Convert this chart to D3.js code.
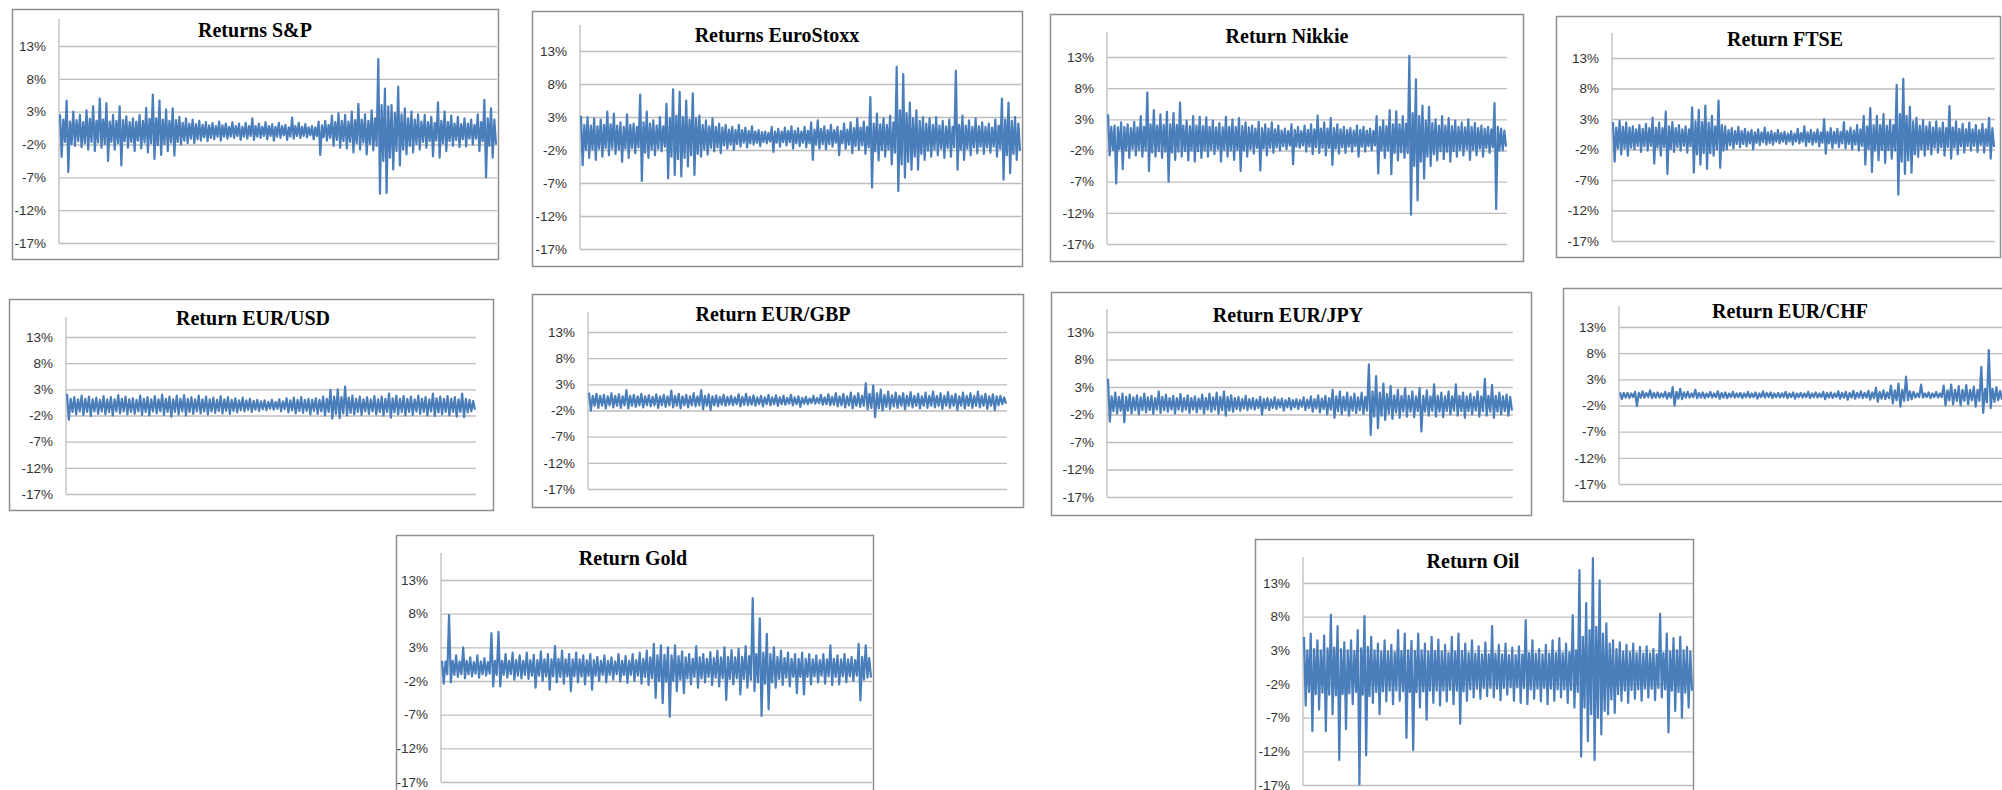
<!DOCTYPE html>
<html>
<head>
<meta charset="utf-8">
<script src="https://cdn.jsdelivr.net/npm/d3@7"></script>
<style>
  body { margin: 0; background: #fff; }
  svg { display: block; }
</style>
</head>
<body>
<svg id="chart" width="2002" height="790"></svg>
<script>
// y ticks shared by all ten panels (percent)
var tickValues = [-17, -12, -7, -2, 3, 8, 13];

var titles = ["Returns S&P", "Returns EuroStoxx", "Return Nikkie", "Return FTSE",
  "Return EUR/USD", "Return EUR/GBP", "Return EUR/JPY", "Return EUR/CHF",
  "Return Gold", "Return Oil"];

// daily returns in % left to right:
// each group of four is a high, a low and two swings inside the dense core
var spReturns = [
  2.6,-3.9,1.8,-1.6, 4.7,-6.2,1.5,-1.9, 3.0,-2.2,1.7,-1.5, 2.5,-2.4,1.4,-1.8, 3.2,-2.8,1.9,-1.6,
  3.8,-3.0,1.6,-1.7, 5.0,-2.5,1.8,-1.9, 4.3,-4.5,1.5,-1.6, 2.5,-2.8,1.6,-1.8, 3.8,-5.2,1.7,-1.5,
  2.3,-2.5,1.4,-1.6, 2.0,-3.0,1.5,-1.4, 2.5,-2.6,1.6,-1.7, 3.6,-3.2,1.9,-1.8, 5.6,-4.2,2.0,-2.1,
  4.7,-3.6,1.8,-1.9, 3.3,-3.0,1.6,-1.7, 3.5,-3.7,1.7,-1.6, 2.2,-2.0,1.3,-1.4, 2.0,-1.8,1.2,-1.1,
  1.8,-1.8,1.1,-1.2, 1.6,-1.4,1.0,-0.9, 1.4,-1.5,0.9,-1.0, 1.3,-1.2,0.8,-0.8, 1.5,-1.4,0.9,-0.8,
  1.2,-1.1,0.7,-0.8, 1.4,-1.0,0.8,-0.7, 1.2,-1.3,0.7,-0.8, 1.3,-1.1,0.8,-0.7, 2.0,-1.3,0.8,-0.8,
  1.2,-1.0,0.7,-0.7, 1.4,-1.2,0.8,-0.7, 1.1,-1.4,0.7,-0.8, 1.3,-1.0,0.8,-0.6, 1.0,-1.3,0.6,-0.8,
  2.1,-1.1,0.8,-0.7, 1.3,-1.0,0.7,-0.7, 1.1,-0.9,0.6,-0.6, 0.8,-1.2,0.6,-0.7, 1.5,-3.6,0.9,-0.9,
  1.6,-1.4,1.0,-1.0, 2.4,-2.2,1.4,-1.3, 2.8,-2.5,1.6,-1.5, 2.5,-2.6,1.5,-1.6, 3.0,-3.2,1.7,-1.8,
  4.2,-2.8,1.8,-1.7, 2.6,-3.5,1.6,-1.9, 3.2,-2.9,2.0,-2.2, 11.0,-9.5,4.0,-4.5, 6.5,-9.4,3.8,-4.0,
  4.0,-5.8,2.8,-3.0, 6.8,-5.2,2.6,-2.8, 3.5,-3.5,2.0,-2.2, 3.0,-3.2,1.8,-1.9, 2.6,-2.8,1.5,-1.6,
  2.5,-2.5,1.4,-1.5, 2.2,-3.8,1.3,-1.4, 4.4,-4.0,1.6,-1.8, 3.0,-3.0,1.4,-1.5, 2.4,-2.2,1.2,-1.3,
  2.2,-2.4,1.1,-1.2, 2.0,-2.3,1.2,-1.1, 1.8,-2.0,1.0,-1.1, 2.6,-3.0,1.4,-1.5, 4.8,-7.0,2.0,-2.2,
  3.5,-4.0,1.8,-2.0];

var euroStoxxReturns = [
  3.2,-4.3,1.8,-2.0, 3.0,-3.2,1.7,-1.9, 2.8,-3.5,1.6,-1.8, 2.6,-3.0,1.8,-1.7, 3.8,-2.8,1.9,-1.8,
  3.5,-2.6,1.7,-1.9, 2.2,-3.8,1.5,-1.8, 3.4,-3.2,1.8,-1.7, 2.0,-2.5,1.5,-1.6, 6.4,-6.7,2.2,-2.4,
  3.8,-3.2,2.0,-1.9, 2.5,-2.8,1.7,-1.8, 3.0,-2.2,1.6,-1.5, 5.0,-6.3,2.8,-3.0, 7.2,-5.8,3.2,-3.4,
  6.8,-6.0,3.0,-3.2, 5.5,-4.5,2.6,-2.8, 6.6,-5.8,2.8,-2.6, 3.2,-3.0,1.8,-1.9, 2.5,-2.7,1.6,-1.7,
  2.8,-2.2,1.5,-1.6, 2.0,-2.5,1.4,-1.3, 1.8,-1.8,1.1,-1.2, 1.5,-2.0,1.0,-1.1, 1.8,-1.5,1.0,-0.9,
  1.4,-1.6,0.9,-1.0, 1.6,-1.2,0.8,-0.9, 1.0,-1.4,0.7,-0.8, 0.8,-1.0,0.6,-0.7, 1.5,-2.3,0.8,-0.9,
  1.2,-1.5,0.8,-0.8, 1.4,-1.3,0.9,-0.8, 1.6,-1.8,0.9,-1.0, 1.3,-1.4,0.8,-0.9, 1.5,-1.6,0.9,-1.0,
  2.2,-3.5,1.1,-1.2, 2.5,-1.8,1.2,-1.1, 1.6,-1.9,1.0,-1.1, 1.8,-1.5,1.0,-0.9, 1.5,-2.8,0.9,-1.0,
  2.0,-1.8,1.1,-1.2, 2.2,-2.5,1.3,-1.4, 2.8,-2.0,1.4,-1.3, 2.3,-2.6,1.5,-1.6, 6.0,-7.7,2.0,-2.2,
  3.5,-3.6,1.9,-2.0, 2.8,-3.0,1.8,-1.9, 3.2,-4.2,2.2,-2.4, 10.6,-8.2,4.0,-4.2, 9.5,-6.2,3.6,-3.8,
  5.2,-5.0,2.8,-3.0, 4.0,-5.0,2.4,-2.6, 3.0,-3.5,2.0,-2.1, 2.8,-3.0,1.8,-1.9, 3.0,-2.8,1.7,-1.8,
  2.4,-3.2,1.6,-1.7, 2.6,-3.0,1.5,-1.6, 10.0,-5.0,1.8,-1.9, 3.2,-3.5,1.7,-1.8, 2.5,-2.8,1.5,-1.6,
  2.8,-2.5,1.6,-1.5, 2.2,-2.6,1.5,-1.6, 2.0,-2.4,1.4,-1.5, 2.6,-3.0,1.7,-1.8, 5.8,-6.5,2.6,-2.8,
  5.2,-5.5,2.4,-2.6, 3.0,-3.5,2.0,-2.1];

var nikkieReturns = [
  3.8,-2.8,1.8,-1.9, 2.0,-7.3,1.7,-1.8, 2.5,-5.0,1.8,-2.0, 2.2,-3.2,1.6,-1.8, 2.6,-2.8,1.7,-1.9,
  3.5,-3.0,1.8,-2.0, 7.3,-5.3,2.2,-2.3, 4.5,-3.0,2.0,-2.1, 3.8,-3.2,2.1,-2.2, 4.2,-7.0,2.2,-2.3,
  4.0,-3.5,2.1,-2.2, 5.7,-3.0,2.0,-2.1, 2.8,-3.6,1.9,-2.0, 3.5,-3.8,2.0,-2.1, 3.4,-3.2,1.9,-2.0,
  3.3,-3.0,1.8,-1.9, 2.8,-2.6,1.7,-1.8, 2.4,-3.8,1.7,-1.9, 3.4,-3.0,1.8,-2.0, 3.0,-3.5,1.8,-1.9,
  3.2,-5.3,1.9,-2.0, 2.5,-3.0,1.7,-1.8, 2.0,-2.5,1.5,-1.6, 2.6,-5.2,1.6,-1.7, 2.2,-2.8,1.5,-1.6,
  2.5,-2.4,1.4,-1.5, 2.0,-2.0,1.2,-1.3, 1.5,-1.8,1.1,-1.2, 2.2,-4.2,1.3,-1.4, 1.8,-1.6,1.1,-1.2,
  2.0,-2.2,1.3,-1.4, 2.2,-2.6,1.4,-1.5, 3.6,-2.4,1.5,-1.6, 2.5,-2.8,1.5,-1.6, 3.2,-4.3,1.6,-1.7,
  2.2,-2.5,1.4,-1.5, 1.8,-2.4,1.3,-1.4, 1.6,-2.2,1.2,-1.3, 2.0,-3.0,1.3,-1.4, 1.8,-2.2,1.2,-1.3,
  1.5,-2.0,1.1,-1.2, 3.5,-5.7,1.8,-2.0, 2.8,-3.2,1.9,-2.0, 4.5,-5.8,2.2,-2.4, 4.3,-3.6,2.2,-2.3,
  3.5,-3.2,2.3,-2.4, 13.2,-12.3,4.0,-4.5, 9.4,-10.0,3.5,-3.8, 5.2,-6.5,2.8,-3.0, 5.0,-4.5,2.4,-2.6,
  3.0,-3.6,2.0,-2.1, 3.5,-3.4,2.0,-2.2, 3.2,-3.8,1.9,-2.1, 2.8,-3.0,1.8,-1.9, 2.5,-2.8,1.7,-1.8,
  3.0,-3.5,1.8,-1.9, 2.4,-2.8,1.6,-1.7, 2.0,-3.0,1.5,-1.6, 1.8,-2.4,1.4,-1.5, 5.6,-11.4,1.8,-2.0,
  1.5,-2.0,1.2,-1.4];

var ftseReturns = [
  2.5,-4.0,1.6,-1.8, 2.7,-2.8,1.7,-1.8, 2.4,-3.0,1.6,-1.7, 1.8,-2.0,1.3,-1.4, 2.0,-2.4,1.4,-1.5,
  2.2,-2.2,1.5,-1.4, 3.2,-4.3,1.6,-1.7, 2.4,-3.0,1.5,-1.6, 4.2,-6.0,1.8,-1.9, 2.5,-2.4,1.5,-1.6,
  2.0,-2.2,1.3,-1.4, 1.8,-2.5,1.3,-1.5, 4.9,-5.8,2.6,-2.8, 4.5,-4.5,2.5,-2.6, 5.2,-5.2,2.4,-2.6,
  3.5,-3.0,1.8,-2.0, 6.0,-5.0,2.0,-2.2, 1.8,-2.0,1.2,-1.3, 1.5,-1.8,1.0,-1.1, 1.7,-1.6,1.0,-1.1,
  1.4,-1.5,0.9,-1.0, 1.2,-2.0,0.8,-0.9, 1.3,-1.3,0.8,-0.8, 1.6,-1.2,0.8,-0.9, 1.0,-1.2,0.7,-0.7,
  1.2,-1.0,0.7,-0.7, 0.9,-1.1,0.6,-0.7, 1.0,-1.2,0.6,-0.7, 1.4,-1.0,0.7,-0.7, 1.8,-1.4,0.8,-0.8,
  1.2,-1.2,0.8,-0.8, 1.3,-1.5,0.8,-0.9, 3.0,-2.7,0.9,-1.0, 1.5,-1.8,0.9,-1.0, 1.4,-1.6,0.9,-1.0,
  2.5,-1.8,1.0,-1.1, 1.6,-2.0,1.1,-1.2, 2.0,-2.2,1.3,-1.4, 3.5,-4.5,1.8,-1.9, 4.8,-5.7,2.0,-2.2,
  3.5,-3.8,2.0,-2.1, 3.8,-4.2,1.9,-2.1, 2.8,-3.5,2.0,-2.2, 8.6,-9.4,3.8,-4.0, 9.6,-6.0,3.5,-3.8,
  5.0,-5.8,2.6,-2.8, 3.2,-3.2,1.9,-2.0, 2.8,-3.0,1.8,-1.9, 2.5,-2.8,1.6,-1.7, 2.6,-2.5,1.5,-1.6,
  2.4,-3.0,1.5,-1.6, 5.1,-3.5,1.6,-1.7, 2.6,-2.8,1.4,-1.5, 2.2,-2.5,1.3,-1.4, 2.4,-2.2,1.3,-1.4,
  2.0,-2.4,1.2,-1.3, 2.2,-2.5,1.3,-1.4, 3.2,-3.5,1.5,-1.6];

var eurUsdReturns = [
  2.1,-2.8,1.2,-1.3, 1.5,-1.8,1.1,-1.2, 1.8,-1.9,1.2,-1.3, 1.6,-2.1,1.1,-1.2, 1.4,-1.7,1.0,-1.2,
  1.7,-1.8,1.1,-1.3, 1.5,-2.0,1.1,-1.2, 1.9,-1.6,1.2,-1.2, 1.6,-1.8,1.1,-1.3, 1.3,-1.7,1.0,-1.2,
  1.8,-1.9,1.2,-1.3, 1.5,-2.0,1.1,-1.2, 1.7,-1.6,1.1,-1.2, 2.0,-1.9,1.2,-1.3, 1.6,-2.2,1.1,-1.3,
  1.8,-1.8,1.2,-1.2, 1.9,-2.0,1.2,-1.3, 1.5,-1.7,1.1,-1.2, 1.8,-1.6,1.1,-1.2, 1.6,-1.8,1.1,-1.2,
  1.4,-1.5,1.0,-1.1, 1.7,-1.6,1.1,-1.1, 1.5,-1.7,1.0,-1.1, 1.3,-1.4,0.9,-1.0, 1.4,-1.2,0.9,-0.9,
  1.2,-1.3,0.8,-0.9, 1.0,-1.1,0.7,-0.8, 0.9,-1.0,0.6,-0.7, 1.0,-0.9,0.6,-0.7, 1.1,-1.2,0.7,-0.8,
  1.3,-1.4,0.9,-1.0, 1.4,-1.6,1.0,-1.1, 1.5,-1.5,1.0,-1.1, 1.2,-1.8,1.0,-1.1, 1.3,-1.7,1.0,-1.2,
  1.6,-2.0,1.2,-1.3, 2.9,-2.6,1.6,-1.7, 3.0,-2.5,1.5,-1.6, 3.5,-2.0,1.4,-1.5, 1.8,-1.8,1.2,-1.3,
  1.6,-1.9,1.1,-1.2, 1.5,-1.7,1.1,-1.2, 1.7,-1.8,1.1,-1.3, 1.6,-2.0,1.2,-1.3, 2.2,-2.4,1.3,-1.4,
  1.8,-1.8,1.2,-1.3, 1.7,-2.0,1.2,-1.3, 1.6,-1.9,1.1,-1.2, 1.8,-1.7,1.2,-1.3, 1.5,-2.0,1.1,-1.2,
  2.2,-2.1,1.3,-1.4, 1.6,-1.8,1.2,-1.3, 1.7,-2.0,1.2,-1.3, 1.5,-2.2,1.1,-1.3, 2.2,-2.3,1.2,-1.4,
  1.0,-1.2,0.8,-0.9];

var eurGbpReturns = [
  1.4,-2.0,0.8,-1.1, 1.2,-1.5,0.8,-1.1, 1.0,-1.6,0.7,-1.0, 1.3,-1.4,0.8,-1.1, 1.1,-1.5,0.7,-1.0,
  1.9,-1.6,0.8,-1.1, 1.0,-1.3,0.7,-1.0, 1.2,-1.4,0.7,-1.0, 0.9,-1.2,0.6,-1.0, 1.1,-1.5,0.7,-1.0,
  1.0,-1.3,0.7,-1.0, 1.8,-1.4,0.8,-1.1, 1.2,-1.6,0.7,-1.0, 1.0,-1.4,0.7,-1.0, 1.3,-1.2,0.7,-1.0,
  1.9,-1.8,0.8,-1.1, 1.1,-1.9,0.7,-1.0, 0.9,-1.2,0.6,-0.9, 1.0,-1.1,0.6,-0.9, 0.8,-1.0,0.5,-0.8,
  1.1,-1.2,0.6,-0.9, 1.2,-1.0,0.6,-0.9, 0.9,-1.1,0.5,-0.8, 0.8,-1.2,0.5,-0.8, 1.0,-1.0,0.5,-0.8,
  0.9,-1.1,0.5,-0.8, 0.8,-0.9,0.4,-0.7, 1.0,-1.0,0.5,-0.8, 0.7,-1.3,0.4,-0.7, 0.6,-0.8,0.3,-0.6,
  0.8,-0.7,0.4,-0.6, 1.0,-0.9,0.5,-0.8, 1.1,-1.0,0.6,-0.9, 1.3,-1.2,0.7,-1.0, 1.2,-1.4,0.7,-1.0,
  1.4,-1.6,0.8,-1.1, 1.3,-1.3,0.8,-1.1, 3.2,-1.8,1.2,-1.5, 2.8,-3.3,1.3,-1.6, 2.0,-2.0,1.0,-1.3,
  1.6,-1.7,0.9,-1.2, 1.4,-1.5,0.8,-1.1, 1.3,-1.8,0.8,-1.1, 1.5,-1.4,0.8,-1.1, 1.2,-1.6,0.7,-1.1,
  1.4,-1.5,0.8,-1.1, 1.6,-1.4,0.8,-1.1, 1.3,-1.7,0.8,-1.1, 1.5,-1.5,0.8,-1.1, 1.2,-1.9,0.7,-1.1,
  1.4,-1.6,0.8,-1.1, 1.3,-1.5,0.8,-1.1, 1.6,-1.4,0.8,-1.1, 1.2,-1.7,0.7,-1.1, 1.1,-1.9,0.7,-1.0,
  0.8,-0.8,0.5,-0.7];

var eurJpyReturns = [
  4.5,-3.3,1.3,-1.4, 2.0,-1.8,1.2,-1.3, 1.8,-3.4,1.2,-1.3, 1.6,-1.8,1.1,-1.2, 1.5,-2.0,1.1,-1.2,
  1.8,-1.6,1.1,-1.2, 1.4,-1.9,1.0,-1.1, 2.2,-1.7,1.2,-1.2, 1.6,-1.5,1.0,-1.1, 1.4,-1.8,1.0,-1.1,
  1.7,-1.5,1.0,-1.1, 1.5,-1.7,1.0,-1.1, 1.3,-1.6,0.9,-1.0, 1.6,-1.8,1.0,-1.1, 1.8,-1.5,1.1,-1.1,
  2.0,-1.9,1.2,-1.2, 2.2,-2.2,1.2,-1.3, 1.5,-1.5,1.0,-1.0, 1.2,-1.3,0.8,-0.9, 1.4,-1.2,0.8,-0.9,
  1.0,-1.1,0.7,-0.8, 1.2,-2.0,0.8,-0.9, 1.0,-1.2,0.7,-0.8, 1.1,-1.0,0.7,-0.7, 0.9,-1.3,0.6,-0.7,
  1.0,-1.1,0.6,-0.7, 0.8,-1.0,0.6,-0.6, 1.1,-1.2,0.7,-0.8, 1.3,-1.5,0.8,-0.9, 1.5,-1.6,0.9,-1.0,
  1.4,-2.0,1.0,-1.1, 2.5,-2.6,1.3,-1.4, 2.2,-2.0,1.2,-1.3, 2.0,-2.2,1.2,-1.3, 1.8,-1.7,1.1,-1.2,
  2.0,-1.9,1.2,-1.3, 7.1,-5.7,2.2,-2.4, 5.0,-4.5,2.0,-2.2, 3.6,-3.0,1.7,-1.8, 3.2,-2.8,1.5,-1.6,
  2.5,-2.6,1.4,-1.5, 2.8,-2.4,1.4,-1.5, 2.2,-2.5,1.3,-1.4, 2.8,-5.1,1.4,-1.5, 2.4,-2.2,1.3,-1.4,
  3.5,-2.4,1.4,-1.5, 2.0,-2.5,1.3,-1.4, 2.2,-2.0,1.3,-1.3, 3.5,-2.2,1.4,-1.4, 2.0,-2.6,1.3,-1.4,
  1.8,-2.0,1.2,-1.3, 2.2,-2.4,1.3,-1.4, 4.5,-2.2,1.4,-1.5, 3.4,-2.6,1.4,-1.5, 2.0,-2.0,1.3,-1.4,
  1.6,-2.2,1.2,-1.3];

var eurChfReturns = [
  0.5,-0.8,0.4,-0.5, 0.4,-0.6,0.3,-0.4, 0.6,-2.1,0.4,-0.5, 0.7,-0.5,0.4,-0.4, 0.9,-0.6,0.4,-0.5,
  0.5,-0.5,0.3,-0.4, 0.6,-0.7,0.4,-0.5, 1.5,-2.0,0.6,-0.7, 1.2,-0.8,0.5,-0.5, 0.6,-0.5,0.3,-0.4,
  1.0,-0.6,0.4,-0.5, 0.5,-0.6,0.3,-0.4, 0.6,-0.5,0.3,-0.4, 0.7,-0.7,0.4,-0.5, 0.5,-0.6,0.3,-0.4,
  0.6,-0.5,0.3,-0.4, 0.4,-0.6,0.3,-0.4, 0.6,-0.5,0.3,-0.4, 0.5,-0.7,0.3,-0.4, 0.7,-0.5,0.4,-0.4,
  0.5,-0.6,0.3,-0.4, 0.4,-0.5,0.3,-0.4, 0.6,-0.6,0.3,-0.4, 0.5,-0.7,0.3,-0.4, 0.4,-0.5,0.3,-0.4,
  0.6,-0.6,0.3,-0.4, 0.5,-0.5,0.3,-0.4, 0.6,-0.8,0.4,-0.5, 0.5,-0.6,0.3,-0.4, 0.7,-0.7,0.4,-0.5,
  0.6,-0.9,0.4,-0.5, 0.8,-0.7,0.4,-0.5, 0.7,-0.6,0.4,-0.5, 0.8,-0.9,0.5,-0.6, 1.4,-1.3,0.6,-0.7,
  0.9,-0.8,0.5,-0.6, 1.8,-1.6,0.9,-1.0, 2.2,-2.2,1.0,-1.1, 3.5,-1.0,0.7,-0.8, 0.6,-0.5,0.3,-0.4,
  2.0,-0.5,0.3,-0.4, 0.5,-0.6,0.3,-0.4, 0.6,-0.5,0.3,-0.4, 1.8,-2.0,0.9,-1.0, 2.0,-1.8,1.0,-1.1,
  1.7,-2.0,1.0,-1.1, 1.9,-1.8,1.0,-1.0, 1.6,-2.2,1.0,-1.1, 5.4,-3.4,1.2,-1.4, 8.6,-2.5,1.2,-1.3,
  1.5,-1.0,0.8,-0.9];

var goldReturns = [
  1.0,-2.4,0.9,-1.0, 7.8,-2.2,1.0,-1.1, 1.8,-1.4,0.9,-1.0, 3.0,-1.6,1.0,-1.0, 1.5,-1.3,0.8,-0.9,
  1.8,-1.5,0.9,-1.0, 1.4,-1.2,0.8,-0.9, 5.1,-2.8,1.0,-1.1, 5.3,-2.8,1.0,-1.1, 2.0,-1.5,1.0,-1.0,
  2.2,-1.8,1.1,-1.2, 1.8,-1.6,1.0,-1.1, 2.2,-1.7,1.1,-1.2, 1.9,-3.0,1.1,-1.2, 2.4,-2.0,1.2,-1.3,
  2.0,-3.3,1.2,-1.3, 3.2,-2.2,1.3,-1.4, 2.5,-2.4,1.2,-1.3, 2.0,-3.5,1.2,-1.3, 2.2,-2.2,1.2,-1.3,
  1.8,-2.5,1.1,-1.2, 2.0,-3.3,1.1,-1.2, 1.6,-2.0,1.0,-1.1, 1.8,-2.2,1.0,-1.1, 1.5,-1.8,0.9,-1.0,
  2.0,-2.1,1.0,-1.1, 1.7,-2.3,1.0,-1.1, 2.0,-2.0,1.1,-1.2, 2.2,-2.4,1.3,-1.4, 2.5,-2.6,1.5,-1.6,
  3.5,-4.5,1.8,-2.0, 3.3,-5.3,1.9,-2.1, 3.0,-7.3,1.8,-2.0, 3.3,-3.5,1.7,-1.8, 2.4,-3.8,1.5,-1.6,
  2.0,-2.5,1.3,-1.4, 3.2,-3.0,1.5,-1.6, 2.0,-2.2,1.3,-1.4, 2.3,-2.6,1.4,-1.5, 2.5,-2.8,1.5,-1.6,
  3.0,-4.8,1.6,-1.7, 2.6,-2.5,1.5,-1.6, 2.8,-4.0,1.6,-1.7, 3.2,-3.0,1.7,-1.8, 10.3,-3.5,2.0,-2.2,
  7.3,-7.2,2.2,-2.4, 5.0,-6.2,2.0,-2.2, 3.0,-3.0,1.6,-1.7, 2.5,-2.6,1.4,-1.5, 2.2,-2.8,1.3,-1.4,
  2.0,-3.8,1.3,-1.4, 2.2,-4.0,1.3,-1.4, 2.0,-2.5,1.2,-1.3, 1.8,-2.2,1.1,-1.2, 2.0,-2.4,1.2,-1.3,
  3.3,-2.6,1.3,-1.4, 1.8,-2.5,1.2,-1.3, 2.0,-2.2,1.2,-1.3, 1.6,-2.0,1.1,-1.2, 3.5,-4.9,1.6,-1.8,
  3.3,-1.5,1.4,-1.5];

var oilReturns = [
  5.0,-5.2,3.0,-3.2, 5.5,-9.0,3.2,-3.5, 4.5,-5.8,3.0,-3.3, 5.2,-9.0,3.3,-3.6, 8.3,-6.5,3.4,-3.7,
  6.6,-13.3,3.2,-3.5, 4.2,-8.7,3.0,-3.4, 4.5,-5.0,2.9,-3.2, 6.0,-16.9,3.3,-3.6, 8.1,-12.6,3.5,-3.8,
  5.0,-4.8,3.0,-3.2, 4.0,-6.5,2.8,-3.1, 4.5,-4.6,2.8,-3.0, 3.8,-5.0,2.7,-3.0, 6.0,-4.5,2.9,-3.1,
  5.5,-10.0,3.0,-3.2, 4.4,-11.8,2.9,-3.2, 5.5,-5.5,3.0,-3.1, 4.0,-7.3,2.8,-3.0, 5.0,-4.8,2.9,-3.0,
  4.6,-5.2,2.8,-3.0, 3.8,-4.6,2.6,-2.9, 5.0,-5.0,2.8,-3.0, 5.5,-7.9,2.9,-3.1, 4.0,-4.5,2.6,-2.8,
  4.5,-4.0,2.5,-2.7, 3.6,-4.2,2.4,-2.6, 4.2,-3.8,2.4,-2.6, 6.6,-4.0,2.5,-2.7, 3.8,-4.4,2.4,-2.6,
  4.0,-3.6,2.3,-2.5, 3.4,-4.5,2.3,-2.5, 3.6,-4.8,2.4,-2.6, 7.5,-5.0,2.6,-2.8, 4.5,-4.2,2.5,-2.7,
  3.2,-4.6,2.4,-2.6, 3.8,-5.0,2.5,-2.7, 4.5,-4.5,2.6,-2.8, 4.8,-4.0,2.6,-2.8, 4.0,-4.8,2.7,-2.9,
  8.2,-5.5,3.0,-3.2, 14.9,-12.8,5.0,-5.5, 10.0,-10.5,6.0,-6.5, 16.7,-13.3,6.5,-7.0, 13.4,-9.5,5.5,-6.0,
  7.0,-6.5,4.0,-4.3, 4.5,-6.3,3.2,-3.5, 4.2,-4.5,2.8,-3.0, 3.8,-4.8,2.7,-2.9, 4.0,-4.2,2.6,-2.8,
  3.5,-4.5,2.5,-2.7, 3.6,-4.0,2.5,-2.7, 3.2,-4.4,2.4,-2.6, 8.4,-4.0,2.6,-2.8, 5.5,-9.2,2.8,-3.0,
  4.8,-6.0,3.0,-3.2, 5.0,-7.0,3.0,-3.3, 3.5,-5.5,2.8,-3.0];

var series = [spReturns, euroStoxxReturns, nikkieReturns, ftseReturns, eurUsdReturns,
  eurGbpReturns, eurJpyReturns, eurChfReturns, goldReturns, oilReturns];

// where each little chart sits on the page
var layout = [
  {box: [12, 9, 498, 259],     left: 59,   right: 497,  top: 19,  y13: 46,  y17: 243, tx: 255,  ty: 37},
  {box: [532, 11, 1022, 266],  left: 580,  right: 1021, top: 25,  y13: 51,  y17: 249, tx: 777,  ty: 42},
  {box: [1050, 14, 1523, 261], left: 1107, right: 1507, top: 32,  y13: 57,  y17: 244, tx: 1287, ty: 43},
  {box: [1556, 16, 2000, 257], left: 1612, right: 1995, top: 33,  y13: 58,  y17: 241, tx: 1785, ty: 46},
  {box: [9, 299, 493, 510],    left: 66,   right: 476,  top: 317, y13: 337, y17: 494, tx: 253,  ty: 325},
  {box: [532, 294, 1023, 507], left: 588,  right: 1007, top: 312, y13: 332, y17: 489, tx: 773,  ty: 321},
  {box: [1051, 292, 1531, 515],left: 1107, right: 1513, top: 309, y13: 332, y17: 497, tx: 1288, ty: 322},
  {box: [1563, 288, 2012, 501],left: 1619, right: 2003, top: 306, y13: 327, y17: 484, tx: 1790, ty: 318},
  {box: [396, 535, 873, 800],  left: 441,  right: 872,  top: 553, y13: 580, y17: 782, tx: 633,  ty: 565},
  {box: [1255, 539, 1693, 800],left: 1303, right: 1693, top: 557, y13: 583, y17: 785, tx: 1473, ty: 568}
];

var svg = d3.select("#chart");

layout.forEach(function(p, i){
  var values = series[i];
  var g = svg.append("g").attr("class", "panel");

  g.append("rect")
    .attr("x", p.box[0] + 0.5)
    .attr("y", p.box[1] + 0.5)
    .attr("width", p.box[2] - p.box[0])
    .attr("height", p.box[3] - p.box[1])
    .attr("fill", "#fff")
    .attr("stroke", "#8f8f8f")
    .attr("stroke-width", 1.5);

  var y = d3.scaleLinear().domain([-17, 13]).range([p.y17, p.y13]);
  var x = d3.scaleLinear().domain([0, values.length - 1]).range([p.left + 1, p.right - 1]);

  var axis = g.append("g")
    .attr("transform", "translate(" + p.left + ",0)")
    .call(d3.axisLeft(y)
      .tickValues(tickValues)
      .tickSize(-(p.right - p.left))
      .tickPadding(13)
      .tickFormat(function(d){ return d + "%"; }));
  axis.select(".domain").remove();
  axis.selectAll(".tick line").attr("stroke", "#bdbdbd").attr("stroke-width", 1.3);
  axis.selectAll(".tick text")
    .attr("fill", "#333")
    .attr("font-family", "'Liberation Sans', Arial, sans-serif")
    .attr("font-size", 13.5);

  g.append("line")
    .attr("x1", p.left).attr("x2", p.left)
    .attr("y1", p.top).attr("y2", p.y17)
    .attr("stroke", "#bdbdbd")
    .attr("stroke-width", 1.3);

  g.append("path")
    .datum(values)
    .attr("fill", "none")
    .attr("stroke", "#4a7ebb")
    .attr("stroke-width", 2.2)
    .attr("stroke-linejoin", "round")
    .attr("d", d3.line()
      .x(function(d, j){ return x(j); })
      .y(function(d){ return y(d); }));

  g.append("text")
    .attr("x", p.tx)
    .attr("y", p.ty)
    .attr("text-anchor", "middle")
    .attr("font-family", "'Liberation Serif', 'Times New Roman', serif")
    .attr("font-weight", "bold")
    .attr("font-size", 20)
    .attr("fill", "#000")
    .text(titles[i]);
});
</script>
</body>
</html>
